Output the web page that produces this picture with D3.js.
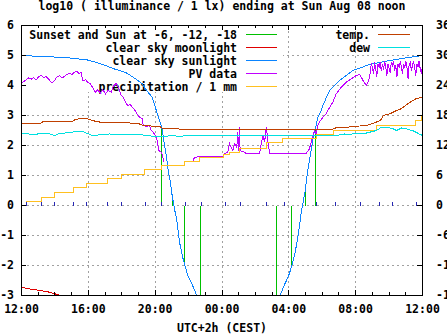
<!DOCTYPE html>
<html><head><meta charset="utf-8">
<script src="https://cdn.jsdelivr.net/npm/d3@7"></script>
<style>
html,body{margin:0;padding:0;background:#fff;}
svg{display:block;}
text{font-family:"DejaVu Sans Mono",monospace;font-weight:bold;font-size:11.5px;fill:#000;}
</style></head><body>
<svg id="c" width="447" height="335"></svg>
<script>
// ---------------- data (times are "DD HH:MM" in August 2021, UTC+2) ----------------
const titleText = "log10 ( illuminance / 1 lx) ending at Sun Aug 08 noon";
const xAxisTitle = "UTC+2h (CEST)";
const leftTicks = [-3,-2,-1,0,1,2,3,4,5,6];
const rightTicks = [-18,-12,-6,0,6,12,18,24,30,36];
const majorTimes = ["07 12:00","07 16:00","07 20:00","08 00:00","08 04:00","08 08:00","08 12:00"];
const keyLeft = ["Sunset and Sun at -6, -12, -18","clear sky moonlight","clear sky sunlight","PV data","precipitation / 1 mm"];
const keyRight = ["temp.","dew"];

const sunEvents = [["07 20:24",2.58],["07 21:01",0.33],["07 21:46",-2.0],["07 22:44",-3.3],
                   ["08 03:17",-3.3],["08 04:11",-2.0],["08 04:59",0.5],["08 05:37",2.63]];

const moonlight = [["07 12:00",-2.73],["07 12:40",-2.80],["07 13:05",-2.83],["07 13:41",-2.89],["07 14:16",-2.99],["07 14:24",-3.05]];

const sunlight = [["07 12:00",5.00],["07 14:42",4.93],["07 15:57",4.85],["07 16:40",4.74],["07 17:34",4.55],["07 18:17",4.42],
  ["07 18:53",4.20],["07 19:14",4.05],["07 19:32",3.80],["07 19:50",3.60],["07 20:04",3.17],["07 20:16",2.83],["07 20:24",2.58],
  ["07 20:34",2.00],["07 20:41",1.60],["07 20:48",1.10],["07 20:55",0.75],["07 21:01",0.33],["07 21:09",-0.10],["07 21:17",-0.45],
  ["07 21:27",-1.20],["07 21:38",-1.70],["07 21:47",-2.00],["07 21:56",-2.30],["07 22:10",-2.57],["07 22:28",-2.97],["07 22:39",-3.15],
  ["08 00:00",null],
  ["08 03:23",-3.17],["08 03:30",-2.97],["08 03:44",-2.65],["08 03:59",-2.35],["08 04:11",-2.00],["08 04:24",-1.50],["08 04:35",-0.90],
  ["08 04:45",-0.20],["08 04:59",0.50],["08 05:08",1.17],["08 05:20",1.83],["08 05:32",2.50],["08 05:37",2.63],["08 05:44",2.94],
  ["08 05:56",3.17],["08 06:02",3.33],["08 06:26",3.83],["08 07:02",4.17],["08 07:50",4.50],["08 08:50",4.70],["08 09:50",4.81],
  ["08 11:01",4.92],["08 12:00",5.00]];

const pvData = [["07 12:00",4.06],["07 12:05",4.11],["07 12:17",4.19],["07 12:26",4.26],["07 12:35",4.21],["07 12:43",4.26],["07 12:53",4.19],
  ["07 13:02",4.30],["07 13:11",4.33],["07 13:19",4.26],["07 13:29",4.30],["07 13:41",4.17],["07 13:50",4.08],["07 13:59",4.17],["07 14:07",4.28],
  ["07 14:16",4.33],["07 14:26",4.26],["07 14:34",4.30],["07 14:43",4.37],["07 14:52",4.41],["07 15:02",4.37],["07 15:10",4.44],["07 15:19",4.48],
  ["07 15:26",4.39],["07 15:34",4.44],["07 15:40",4.17],["07 15:50",4.19],["07 15:58",4.11],["07 16:07",4.06],["07 16:16",3.92],["07 16:25",3.78],
  ["07 16:34",3.86],["07 16:43",3.74],["07 16:52",3.86],["07 17:02",3.72],["07 17:10",3.83],["07 17:22",3.78],["07 17:30",3.97],["07 17:40",4.08],
  ["07 17:49",3.92],["07 17:58",3.67],["07 18:06",3.61],["07 18:13",3.44],["07 18:22",3.33],["07 18:30",3.37],["07 18:37",3.28],["07 18:46",3.19],
  ["07 18:54",3.06],["07 19:04",2.94],["07 19:13",2.89],["07 19:16",2.72],["07 19:28",2.63],["07 19:40",2.67],["07 19:46",2.50],["07 19:51",2.47],
  ["07 19:58",2.37],["07 20:04",2.30],["07 20:09",2.06],["07 20:13",1.83],["07 20:22",1.78],["07 20:27",1.67],["07 20:30",1.44],
  ["07 21:00",null],
  ["07 22:15",1.44],["07 22:18",1.57],["07 22:27",1.61],["07 22:39",1.63],["08 00:03",1.63],["08 00:09",1.72],["08 00:21",1.78],["08 00:27",2.06],
  ["08 00:33",1.94],["08 00:39",1.83],["08 00:45",2.06],["08 00:53",1.94],["08 00:57",2.44],["08 00:59",1.83],["08 01:03",2.61],["08 01:05",1.83],
  ["08 01:21",1.78],["08 01:27",1.72],["08 02:15",1.72],["08 02:21",2.06],["08 02:27",2.33],["08 02:33",2.11],["08 02:39",2.61],["08 02:44",2.22],
  ["08 02:51",1.72],["08 05:02",1.74],["08 05:14",1.89],["08 05:20",2.11],["08 05:26",2.33],["08 05:32",2.50],["08 05:38",2.39],["08 05:44",2.67],
  ["08 05:50",2.78],["08 06:02",2.94],["08 06:14",3.06],["08 06:20",3.17],["08 06:38",3.44],["08 06:50",3.72],["08 07:08",3.94],["08 07:26",4.11],
  ["08 07:44",4.22],["08 08:02",4.33],["08 08:14",4.37],["08 08:20",4.28],["08 08:26",4.17],["08 08:38",4.00],["08 08:44",4.11],["08 08:50",4.28],
  ["08 08:56",4.72],["08 09:00",4.63],["08 09:04",4.37],["08 09:08",4.77],["08 09:12",4.57],["08 09:16",4.30],["08 09:20",4.73],["08 09:24",4.60],
  ["08 09:28",4.77],["08 09:32",4.50],["08 09:36",4.70],["08 09:40",4.53],["08 09:44",4.80],["08 09:48",4.63],["08 09:52",4.33],["08 09:56",4.73],
  ["08 10:00",4.57],["08 10:04",4.43],["08 10:08",4.77],["08 10:12",4.63],["08 10:16",4.83],["08 10:20",4.50],["08 10:24",4.67],["08 10:28",4.27],
  ["08 10:32",4.70],["08 10:36",4.60],["08 10:40",4.80],["08 10:44",4.63],["08 10:48",4.37],["08 10:52",4.73],["08 10:56",4.57],["08 11:00",4.83],
  ["08 11:04",4.63],["08 11:08",4.23],["08 11:12",4.70],["08 11:16",4.77],["08 11:20",4.50],["08 11:24",4.67],["08 11:28",4.80],["08 11:32",4.60],
  ["08 11:36",4.33],["08 11:40",4.73],["08 11:44",4.63],["08 11:48",4.83],["08 11:52",4.53],["08 11:56",4.43],["08 12:00",4.63]];

const precipitation = [["07 12:00",0],["07 12:17",0.15],["07 13:13",0.28],["07 13:59",0.43],["07 15:07",0.59],["07 15:54",0.72],
  ["07 17:10",0.89],["07 17:58",1.03],["07 19:22",1.19],["07 20:22",1.33],["07 21:45",1.48],["07 22:39",1.61],["08 00:05",1.70],
  ["08 00:27",1.78],["08 01:03",1.89],["08 02:39",2.09],["08 03:38",2.22],["08 05:38",2.36],["08 06:40",2.50],["08 09:15",2.67],
  ["08 11:34",2.83],["08 11:56",2.97],["08 12:00",2.97]];

const rainTicks = [["07 12:17",0.15],["07 13:13",0.15],["07 13:59",0.15],["07 15:07",0.15],["07 15:54",0.15],["07 17:10",0.15],
  ["07 18:00",0.15],["07 19:24",0.15],["07 20:24",0.15],["07 21:49",0.15],["07 22:45",0.15],["08 00:12",0.15],["08 01:05",0.15],
  ["08 02:41",0.15],["08 03:46",0.15],["08 05:38",0.15],["08 06:47",0.15],["08 08:16",0.15],["08 09:24",0.15],["08 10:14",0.15],
  ["08 11:37",0.15]];

const temperature = [["07 12:00",16.5],["07 13:11",16.5],["07 13:17",16.8],["07 15:04",16.8],["07 15:10",17.1],["07 15:34",17.5],
  ["07 15:46",17.5],["07 15:58",17.3],["07 16:10",17.1],["07 16:28",16.8],["07 16:40",16.7],["07 18:16",16.7],["07 18:28",16.5],
  ["07 19:04",16.3],["07 19:16",16.0],["07 20:16",15.8],["07 20:24",15.5],["07 21:27",15.3],["07 21:39",15.2],["07 21:45",15.3],
  ["08 00:05",15.3],["08 04:02",15.3],["08 06:40",15.3],["08 06:48",15.5],["08 07:38",15.7],["08 08:14",15.9],["08 08:39",16.0],
  ["08 09:15",16.7],["08 09:29",17.0],["08 09:40",18.0],["08 10:01",18.3],["08 10:27",19.0],["08 10:41",19.3],["08 10:59",20.0],
  ["08 11:17",20.7],["08 11:35",21.3],["08 12:00",21.7]];

const dewPoint = [["07 12:00",14.5],["07 12:40",14.2],["07 13:33",14.5],["07 13:59",14.0],["07 14:10",14.3],["07 15:34",14.9],
  ["07 15:53",14.5],["07 16:15",14.0],["07 17:16",14.3],["07 19:04",14.2],["07 19:58",13.8],["07 20:16",13.7],["07 21:02",14.0],
  ["07 21:27",13.8],["07 21:52",14.0],["08 00:05",14.0],["08 06:51",14.0],["08 07:20",14.3],["08 07:40",14.2],["08 08:03",14.5],
  ["08 08:39",14.5],["08 09:15",15.0],["08 09:33",15.7],["08 09:51",15.7],["08 10:16",15.3],["08 10:27",15.0],["08 10:45",15.5],
  ["08 11:03",15.3],["08 11:28",14.9],["08 11:52",14.2],["08 12:00",14.0]];

// ---------------- drawing ----------------
const parse = s => d3.timeParse("%Y-%m-%d %H:%M")("2021-08-" + s);
const col = {green:"#00c000", red:"#e00000", blue:"#0a84ff", purple:"#c000ff", yellow:"#ffc020",
             brown:"#c04000", cyan:"#00e0e0", rain:"#2828b4", grid:"#a0a0a0"};

const svg = d3.select("#c");
svg.append("rect").attr("width",447).attr("height",335).attr("fill","#fff");

const x = d3.scaleTime().domain([parse("07 12:00"), parse("08 12:00")]).range([21, 422]);
const y = d3.scaleLinear().domain([-3, 6]).range([295, 25]);
const y2 = d3.scaleLinear().domain([-18, 36]).range([295, 25]);
const xr = s => Math.round(x(parse(s)));

// layers in drawing order
const gridLayer = svg.append("g").attr("transform","translate(0.5,0.5)").attr("shape-rendering","crispEdges");
const keyLayer = svg.append("g");
const plotLayer = svg.append("g").attr("transform","translate(0.5,0.5)").attr("shape-rendering","crispEdges");
const frameLayer = svg.append("g");

// grid
const gridG = gridLayer.append("g").attr("stroke", col.grid).attr("stroke-dasharray","2,3");
gridG.selectAll("line.h").data(leftTicks.filter(v => v > -3 && v < 6)).join("line")
  .attr("x1", 21).attr("x2", 422).attr("y1", d => y(d)).attr("y2", d => y(d));
gridG.selectAll("line.v").data(majorTimes.slice(1, -1)).join("line")
  .attr("x1", d => xr(d)).attr("x2", d => xr(d)).attr("y1", 25).attr("y2", 295);

// opaque key box (left column) + key entries
keyLayer.append("rect").attr("x",27).attr("y",26).attr("width",256).attr("height",66).attr("fill","#fff");
const keyColsLeft = [col.green, col.red, col.blue, col.purple, col.yellow];
const keyColsRight = [col.brown, col.cyan];
keyLeft.forEach((t, i) => {
  keyLayer.append("text").attr("x",237).attr("y",39 + 13*i).attr("text-anchor","end").text(t);
  keyLayer.append("line").attr("x1",246).attr("x2",277).attr("y1",34.5 + 13*i).attr("y2",34.5 + 13*i)
    .attr("stroke",keyColsLeft[i]).attr("shape-rendering","crispEdges");
});
keyRight.forEach((t, i) => {
  keyLayer.append("text").attr("x",370).attr("y",39 + 13*i).attr("text-anchor","end").text(t);
  keyLayer.append("line").attr("x1",378).attr("x2",410).attr("y1",34.5 + 13*i).attr("y2",34.5 + 13*i)
    .attr("stroke",keyColsRight[i]).attr("shape-rendering","crispEdges");
});

// clip
svg.append("defs").append("clipPath").attr("id","plotclip")
  .append("rect").attr("x",21).attr("y",25).attr("width",401).attr("height",270);
const plot = plotLayer.append("g").attr("clip-path","url(#plotclip)");

const lineL = d3.line().defined(d => d[1] != null).x(d => x(parse(d[0]))).y(d => y(d[1]));
const stepL = d3.line().curve(d3.curveStepAfter).x(d => x(parse(d[0]))).y(d => y(d[1]));
const lineR = d3.line().defined(d => d[1] != null).x(d => x(parse(d[0]))).y(d => y2(d[1]));

// sun events impulses
plot.append("g").attr("stroke", col.green).selectAll("line").data(sunEvents).join("line")
  .attr("x1", d => xr(d[0])).attr("x2", d => xr(d[0])).attr("y1", y(0)).attr("y2", d => Math.round(y(d[1])));

plot.append("path").datum(moonlight).attr("d", lineL).attr("fill","none").attr("stroke", col.red);
plot.append("path").datum(sunlight).attr("d", lineL).attr("fill","none").attr("stroke", col.blue);
plot.append("path").datum(pvData).attr("d", lineL).attr("fill","none").attr("stroke", col.purple);
plot.append("path").datum(precipitation).attr("d", stepL).attr("fill","none").attr("stroke", col.yellow);
plot.append("path").datum(temperature).attr("d", lineR).attr("fill","none").attr("stroke", col.brown);
plot.append("path").datum(dewPoint).attr("d", lineR).attr("fill","none").attr("stroke", col.cyan);

plot.append("g").attr("stroke", col.rain).selectAll("line").data(rainTicks).join("line")
  .attr("x1", d => xr(d[0])).attr("x2", d => xr(d[0])).attr("y1", y(0)).attr("y2", d => Math.round(y(d[1])));

// border
plotLayer.append("rect").attr("x",21).attr("y",25).attr("width",401).attr("height",270)
  .attr("fill","none").attr("stroke","#000");

// axes
function styleAxis(g){
  g.select(".domain").remove();
  g.attr("font-family", null).attr("font-size", null);
  g.selectAll("line").attr("stroke","#000").attr("shape-rendering","crispEdges");
  g.selectAll("text").attr("fill","#000");
}
const fmt = d3.timeFormat("%H:%M");
const majorDates = majorTimes.map(parse);
frameLayer.append("g").attr("transform","translate(0,295)")
  .call(d3.axisBottom(x).tickValues(majorDates).tickFormat(fmt).tickSizeInner(-5).tickSizeOuter(0).tickPadding(10))
  .call(styleAxis);
frameLayer.append("g").attr("transform","translate(0,295)")
  .call(d3.axisBottom(x).ticks(d3.timeHour.every(1)).tickFormat("").tickSizeInner(-3).tickSizeOuter(0))
  .call(styleAxis);
frameLayer.append("g").attr("transform","translate(0,25)")
  .call(d3.axisTop(x).tickValues(majorDates).tickFormat("").tickSizeInner(-5).tickSizeOuter(0))
  .call(styleAxis);
frameLayer.append("g").attr("transform","translate(0,25)")
  .call(d3.axisTop(x).ticks(d3.timeHour.every(1)).tickFormat("").tickSizeInner(-3).tickSizeOuter(0))
  .call(styleAxis);
frameLayer.append("g").attr("transform","translate(21,0)")
  .call(d3.axisLeft(y).tickValues(leftTicks).tickFormat(d => String(d)).tickSizeInner(-5).tickSizeOuter(0).tickPadding(7))
  .call(styleAxis);
frameLayer.append("g").attr("transform","translate(422,0)")
  .call(d3.axisRight(y2).tickValues(rightTicks).tickFormat(d => String(d)).tickSizeInner(-5).tickSizeOuter(0).tickPadding(14))
  .call(styleAxis);

// titles
frameLayer.append("text").attr("x",222).attr("y",10).attr("text-anchor","middle").text(titleText);
frameLayer.append("text").attr("x",222).attr("y",331.5).attr("text-anchor","middle").text(xAxisTitle);
</script></body></html>
